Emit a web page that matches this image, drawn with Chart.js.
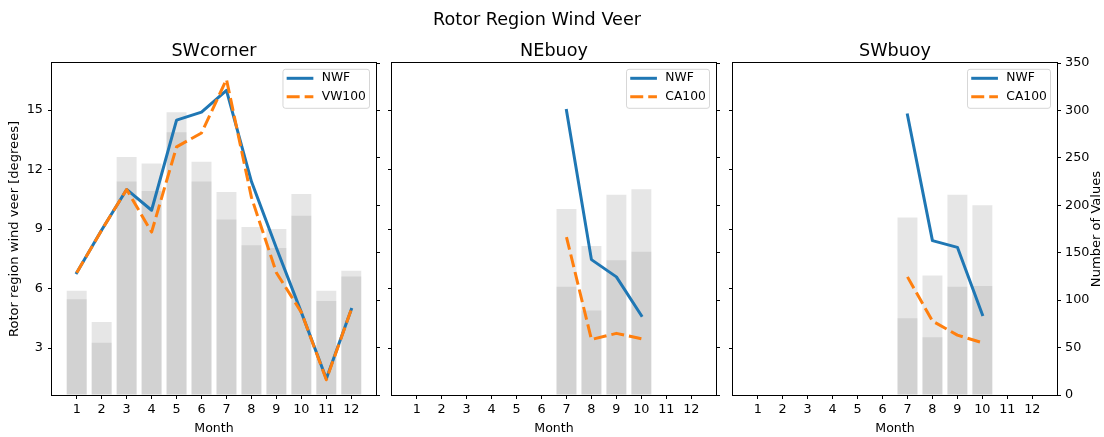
<!DOCTYPE html>
<html>
<head>
<meta charset="utf-8">
<script src="https://cdn.jsdelivr.net/npm/chart.js@4.4.1/dist/chart.umd.min.js"></script>
<style>
html, body { margin: 0; padding: 0; background: #ffffff; }
#wrap { position: relative; width: 1104px; height: 437px; overflow: hidden; }
#wrap canvas { position: absolute; left: 0; top: 0; }
</style>
</head>
<body>
<div id="wrap">
  <canvas id="c0" width="1104" height="437"></canvas>
  <canvas id="c1" width="1104" height="437"></canvas>
  <canvas id="c2" width="1104" height="437"></canvas>
</div>
<script>
// ---------------- data ----------------
const months = [1, 2, 3, 4, 5, 6, 7, 8, 9, 10, 11, 12];
const veerTicks = [3, 6, 9, 12, 15];
const countTicks = [0, 50, 100, 150, 200, 250, 300, 350];

const suptitleText = 'Rotor Region Wind Veer';
const panelTitles = ['SWcorner', 'NEbuoy', 'SWbuoy'];
const modelLabel = 'NWF';
const obsLabels = ['VW100', 'CA100', 'CA100'];
const xAxisLabel = 'Month';
const leftAxisLabel = 'Rotor region wind veer [degrees]';
const rightAxisLabel = 'Number of Values';

// SWcorner
const swcNWF   = [6.8, 8.95, 11.0, 9.95, 14.5, 14.9, 16.0, 11.4, 8.05, 4.8, 1.45, 4.95];
const swcVW100 = [6.8, 8.95, 11.0, 8.85, 13.15, 13.85, 16.55, 10.6, 6.8, 4.8, 1.4, 4.95];
const swcCountA = [110, 77, 251, 244, 298, 246, 214, 177, 175, 212, 110, 131];
const swcCountB = [101, 55, 225, 215, 277, 225, 185, 158, 155, 189, 99, 125];

// NEbuoy
const neNWF   = [null, null, null, null, null, null, 14.98, 7.46, 6.59, 4.64, null, null];
const neCA100 = [null, null, null, null, null, null, 8.6, 3.43, 3.74, 3.47, null, null];
const neCountA = [null, null, null, null, null, null, 196, 157, 211, 217, null, null];
const neCountB = [null, null, null, null, null, null, 114, 89, 142, 151, null, null];

// SWbuoy
const swbNWF   = [null, null, null, null, null, null, 14.76, 8.42, 8.08, 4.69, null, null];
const swbCA100 = [null, null, null, null, null, null, 6.59, 4.36, 3.65, 3.27, null, null];
const swbCountA = [null, null, null, null, null, null, 187, 126, 211, 200, null, null];
const swbCountB = [null, null, null, null, null, null, 81, 61, 114, 115, null, null];

// axis limits
const monthMin = 0.01, monthMax = 12.99;
const veerMin = 0.63, veerMax = 17.38;
const countMin = 0, countMax = 350;

// ---------------- layout / style ----------------
const FAMILY = "'DejaVu Sans', 'Liberation Sans', sans-serif";
const TICK_SIZE = 12.8;
const LEGEND_SIZE = 12.3;
const XLABEL_SIZE = 12.6;
const YLABEL_SIZE = 13.1;
const TITLE_SIZE = 17.6;
const PANEL_LEFT = [52, 392, 733];
const PANEL_W = 324;
const PLOT_TOP = 63;
const PLOT_BOTTOM = 395;
const AXIS_W = 40;
const XAXIS_H = 42;
const BLUE = '#1f77b4';
const ORANGE = '#ff7f0e';
const BAR_FILL = 'rgba(128,128,128,0.2)';
const DASH = [13, 5];

const panels = [
  { nwf: swcNWF, obs: swcVW100, a: swcCountA, b: swcCountB },
  { nwf: neNWF, obs: neCA100, a: neCountA, b: neCountB },
  { nwf: swbNWF, obs: swbCA100, a: swbCountA, b: swbCountB }
];

function pts(arr) { return months.map((m, i) => ({ x: m, y: arr[i] })); }

function roundRect(ctx, x, y, w, h, r) {
  ctx.beginPath();
  ctx.moveTo(x + r, y);
  ctx.lineTo(x + w - r, y);
  ctx.quadraticCurveTo(x + w, y, x + w, y + r);
  ctx.lineTo(x + w, y + h - r);
  ctx.quadraticCurveTo(x + w, y + h, x + w - r, y + h);
  ctx.lineTo(x + r, y + h);
  ctx.quadraticCurveTo(x, y + h, x, y + h - r);
  ctx.lineTo(x, y + r);
  ctx.quadraticCurveTo(x, y, x + r, y);
  ctx.closePath();
}

function decorPlugin(idx) {
  return {
    id: 'decor' + idx,
    afterDraw(chart) {
      const ctx = chart.ctx;
      const a = chart.chartArea;
      ctx.save();
      // spines
      ctx.strokeStyle = '#000';
      ctx.lineWidth = 1;
      ctx.setLineDash([]);
      ctx.strokeRect(a.left - 0.5, a.top - 0.5, a.right - a.left + 1, a.bottom - a.top + 1);

      ctx.fillStyle = '#000';
      // subplot title
      ctx.font = TITLE_SIZE + 'px ' + FAMILY;
      ctx.textAlign = 'center';
      ctx.textBaseline = 'alphabetic';
      ctx.fillText(panelTitles[idx], (a.left + a.right) / 2, a.top - 7);
      if (idx === 1) {
        ctx.fillText(suptitleText, 537, 25);
      }
      // x label
      ctx.font = XLABEL_SIZE + 'px ' + FAMILY;
      ctx.fillText(xAxisLabel, (a.left + a.right) / 2, 432);
      // y labels
      ctx.font = YLABEL_SIZE + 'px ' + FAMILY;
      if (idx === 0) {
        ctx.save();
        ctx.translate(15, (a.top + a.bottom) / 2);
        ctx.rotate(-Math.PI / 2);
        ctx.textBaseline = 'middle';
        ctx.fillText(leftAxisLabel, 0, 0);
        ctx.restore();
      }
      if (idx === 2) {
        ctx.save();
        ctx.translate(1096.5, (a.top + a.bottom) / 2);
        ctx.rotate(-Math.PI / 2);
        ctx.textBaseline = 'middle';
        ctx.fillText(rightAxisLabel, 0, 0);
        ctx.restore();
      }

      // legend
      ctx.font = LEGEND_SIZE + 'px ' + FAMILY;
      const labels = [modelLabel, obsLabels[idx]];
      const tw = Math.max(ctx.measureText(labels[0]).width, ctx.measureText(labels[1]).width);
      const pad = 3.7, handle = 26.7, gap = 8.4;
      const boxW = pad + handle + gap + tw + pad;
      const boxH = 39;
      const boxR = a.right - 6.5;
      const boxT = a.top + 6.3;
      const boxL = boxR - boxW;
      roundRect(ctx, boxL, boxT, boxW, boxH, 2.5);
      ctx.fillStyle = 'rgba(255,255,255,0.8)';
      ctx.fill();
      ctx.strokeStyle = 'rgba(204,204,204,0.8)';
      ctx.lineWidth = 1;
      ctx.stroke();
      const rows = [boxT + 9, boxT + 27.4];
      const colors = [BLUE, ORANGE];
      for (let r = 0; r < 2; r++) {
        ctx.beginPath();
        ctx.strokeStyle = colors[r];
        ctx.lineWidth = 3;
        ctx.lineCap = 'butt';
        ctx.setLineDash(r === 1 ? DASH : []);
        ctx.moveTo(boxL + pad, rows[r]);
        ctx.lineTo(boxL + pad + handle, rows[r]);
        ctx.stroke();
        ctx.setLineDash([]);
        ctx.fillStyle = '#000';
        ctx.textAlign = 'left';
        ctx.textBaseline = 'middle';
        ctx.fillText(labels[r], boxL + pad + handle + gap, rows[r]);
      }
      ctx.restore();
    }
  };
}

function makeChart(idx) {
  const p = panels[idx];
  const left = PANEL_LEFT[idx];
  const tickFont = { family: FAMILY, size: TICK_SIZE };
  const tickGrid = { display: true, offset: false, drawOnChartArea: false, drawTicks: true, tickLength: 4, color: '#000', lineWidth: 1 };
  return new Chart(document.getElementById('c' + idx), {
    type: 'bar',
    data: {
      datasets: [
        { type: 'line', label: obsLabels[idx], data: pts(p.obs), yAxisID: 'y', xAxisID: 'x',
          borderColor: ORANGE, backgroundColor: ORANGE, borderWidth: 3, borderDash: DASH,
          pointRadius: 0, tension: 0, fill: false, spanGaps: false, order: 0,
          borderCapStyle: 'butt', borderJoinStyle: 'round' },
        { type: 'line', label: modelLabel, data: pts(p.nwf), yAxisID: 'y', xAxisID: 'x',
          borderColor: BLUE, backgroundColor: BLUE, borderWidth: 3,
          pointRadius: 0, tension: 0, fill: false, spanGaps: false, order: 1,
          borderCapStyle: 'square', borderJoinStyle: 'round' },
        { type: 'bar', label: 'countA', data: pts(p.a), yAxisID: 'y2', xAxisID: 'x',
          backgroundColor: BAR_FILL, borderWidth: 0, grouped: false,
          barPercentage: 0.8, categoryPercentage: 1.0, order: 2 },
        { type: 'bar', label: 'countB', data: pts(p.b), yAxisID: 'y2', xAxisID: 'x',
          backgroundColor: BAR_FILL, borderWidth: 0, grouped: false,
          barPercentage: 0.8, categoryPercentage: 1.0, order: 3 }
      ]
    },
    options: {
      responsive: false,
      animation: false,
      events: [],
      layout: { padding: { left: left - AXIS_W, right: 1104 - (left + PANEL_W) - AXIS_W, top: PLOT_TOP, bottom: 437 - PLOT_BOTTOM - XAXIS_H } },
      plugins: { legend: { display: false }, title: { display: false }, tooltip: { enabled: false } },
      scales: {
        x: {
          type: 'linear', position: 'bottom', min: monthMin, max: monthMax, offset: false, bounds: 'data',
          afterBuildTicks: s => { s.ticks = months.map(v => ({ value: v })); },
          afterFit: s => { s.height = XAXIS_H; },
          ticks: { font: tickFont, color: '#000', padding: 3, autoSkip: false, maxRotation: 0, minRotation: 0, callback: v => String(v) },
          grid: tickGrid, border: { display: false }
        },
        y: {
          type: 'linear', position: 'left', min: veerMin, max: veerMax, bounds: 'data',
          afterBuildTicks: s => { s.ticks = veerTicks.map(v => ({ value: v })); },
          afterFit: s => { s.width = AXIS_W; },
          ticks: { display: idx === 0, font: tickFont, color: '#000', padding: 5, callback: v => String(v) },
          grid: tickGrid, border: { display: false }
        },
        y2: {
          type: 'linear', position: 'right', min: countMin, max: countMax, bounds: 'data',
          afterBuildTicks: s => { s.ticks = countTicks.map(v => ({ value: v })); },
          afterFit: s => { s.width = AXIS_W; },
          ticks: { display: idx === 2, font: tickFont, color: '#000', padding: 4, callback: v => String(v) },
          grid: tickGrid, border: { display: false }
        }
      }
    },
    plugins: [decorPlugin(idx)]
  });
}

[0, 1, 2].forEach(makeChart);
</script>
</body>
</html>
